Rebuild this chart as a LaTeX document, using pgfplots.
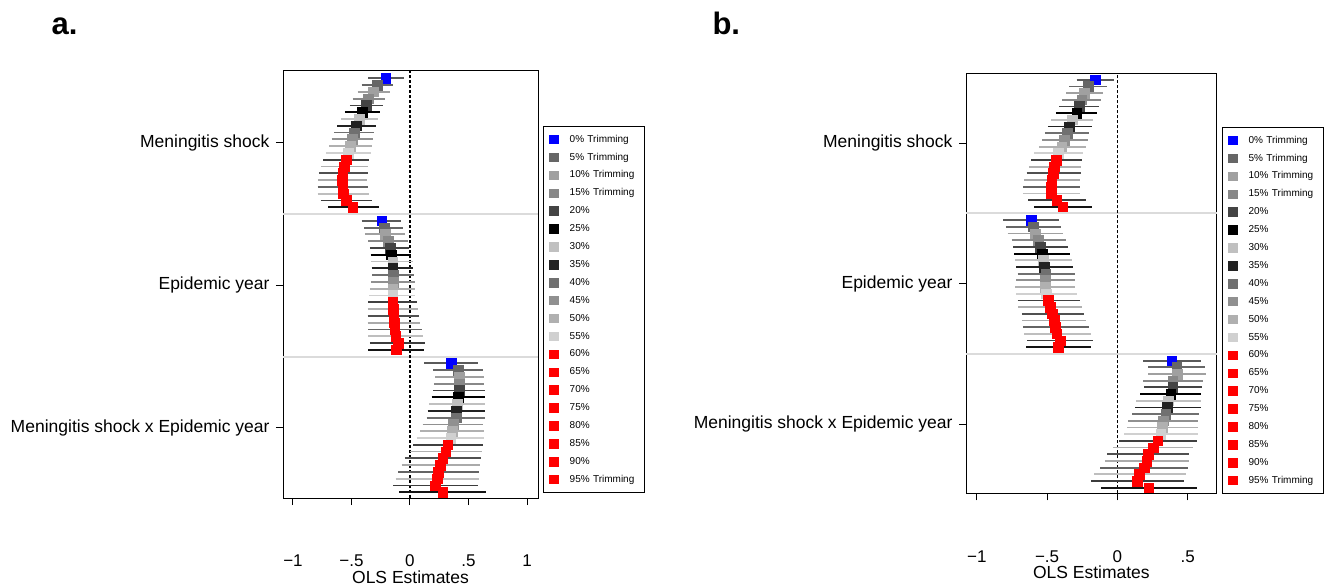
\documentclass[border=0pt]{standalone}
\usepackage{pgfplots}
\pgfplotsset{compat=1.18}
\usepackage{pgfplotstable}
\usepackage{fontspec}
\setmainfont{Liberation Sans}

\newcommand{\lblfont}{\fontsize{17.5}{21}\selectfont}
\newcommand{\tickfont}{\fontsize{17}{20}\selectfont}
\newcommand{\legfont}{\fontsize{10}{12}\selectfont}

% marker colours, one per trimming level
\definecolor{t0}{RGB}{0,0,255}
\definecolor{t1}{RGB}{102,102,102}
\definecolor{t2}{RGB}{160,160,160}
\definecolor{t3}{RGB}{136,136,136}
\definecolor{t4}{RGB}{68,68,68}
\definecolor{t5}{RGB}{0,0,0}
\definecolor{t6}{RGB}{192,192,192}
\definecolor{t7}{RGB}{34,34,34}
\definecolor{t8}{RGB}{112,112,112}
\definecolor{t9}{RGB}{144,144,144}
\definecolor{t10}{RGB}{176,176,176}
\definecolor{t11}{RGB}{208,208,208}
\definecolor{tr}{RGB}{255,0,0}

\pgfplotsset{
  colormap={trimmarks}{rgb255=(0,0,255) rgb255=(102,102,102) rgb255=(160,160,160)
    rgb255=(136,136,136) rgb255=(68,68,68) rgb255=(0,0,0) rgb255=(192,192,192)
    rgb255=(34,34,34) rgb255=(112,112,112) rgb255=(144,144,144) rgb255=(176,176,176)
    rgb255=(208,208,208) rgb255=(255,0,0) rgb255=(255,0,0) rgb255=(255,0,0)
    rgb255=(255,0,0) rgb255=(255,0,0) rgb255=(255,0,0) rgb255=(255,0,0) rgb255=(255,0,0)},
  colormap={trimlines}{rgb255=(90,90,90) rgb255=(102,102,102) rgb255=(160,160,160)
    rgb255=(136,136,136) rgb255=(68,68,68) rgb255=(0,0,0) rgb255=(192,192,192)
    rgb255=(34,34,34) rgb255=(112,112,112) rgb255=(144,144,144) rgb255=(176,176,176)
    rgb255=(208,208,208) rgb255=(64,64,64) rgb255=(176,176,176) rgb255=(80,80,80)
    rgb255=(170,170,170) rgb255=(100,100,100) rgb255=(190,190,190) rgb255=(60,60,60) rgb255=(20,20,20)},
  trimaxis/.style={
    scale only axis, anchor=north west,
    axis line style={line width=0.9pt, black},
    tick align=outside, xtick pos=bottom, ytick pos=left,
    major tick length=7pt, tick style={black, line width=1pt},
    ytick={-9.5,-30.5,-51.5},
    yticklabels={Meningitis shock, Epidemic year, Meningitis shock x Epidemic year},
    yticklabel style={font=\lblfont, xshift=-3pt},
    xticklabel style={font=\tickfont, inner sep=0pt},
    xlabel={OLS Estimates},
    xlabel style={font=\lblfont, inner sep=0pt, at={(axis description cs:0.5,0)}, anchor=north},
    extra y ticks={-20,-41}, extra y tick labels={},
    extra y tick style={grid=major, major grid style={line width=2pt, color=black!14}, major tick length=0pt},
    point meta min=0, point meta max=19,
    legend cell align=left,
    legend style={anchor=north west, draw=black, line width=0.8pt, font=\legfont,
      inner xsep=6pt, inner ysep=7.5pt, row sep=6.9pt,
      nodes={inner sep=1pt, text height=7.2pt, text depth=1.8pt, text width=68pt},
      /tikz/every odd column/.style={column sep=10pt}},
  },
}

% estimate with confidence bounds; y = -(21*group + level), k = trimming level
\pgfplotstableread{
y est lo hi k
0 -0.208 -0.356 -0.051 0
-1 -0.279 -0.413 -0.143 1
-2 -0.313 -0.447 -0.171 2
-3 -0.356 -0.490 -0.211 3
-4 -0.376 -0.513 -0.228 4
-5 -0.407 -0.556 -0.256 5
-6 -0.436 -0.590 -0.276 6
-7 -0.459 -0.621 -0.291 7
-8 -0.479 -0.647 -0.308 8
-9 -0.496 -0.670 -0.316 9
-10 -0.510 -0.690 -0.328 10
-11 -0.530 -0.718 -0.336 11
-12 -0.547 -0.741 -0.350 12
-13 -0.561 -0.758 -0.356 13
-14 -0.575 -0.778 -0.362 14
-15 -0.581 -0.786 -0.365 15
-16 -0.575 -0.789 -0.362 16
-17 -0.570 -0.789 -0.353 17
-18 -0.547 -0.763 -0.325 18
-19 -0.490 -0.698 -0.268 19
-21 -0.242 -0.413 -0.080 0
-22 -0.219 -0.390 -0.057 1
-23 -0.211 -0.385 -0.043 2
-24 -0.185 -0.356 -0.020 3
-25 -0.171 -0.342 -0.009 4
-26 -0.162 -0.336 0.006 5
-27 -0.148 -0.333 0.023 6
-28 -0.148 -0.328 0.028 7
-29 -0.142 -0.322 0.037 8
-30 -0.142 -0.333 0.043 9
-31 -0.148 -0.342 0.043 10
-32 -0.148 -0.348 0.043 11
-33 -0.148 -0.356 0.057 12
-34 -0.142 -0.362 0.071 13
-35 -0.139 -0.362 0.080 14
-36 -0.137 -0.362 0.085 15
-37 -0.131 -0.356 0.100 16
-38 -0.123 -0.356 0.108 17
-39 -0.103 -0.342 0.128 18
-40 -0.120 -0.356 0.120 19
-42 0.350 0.120 0.579 0
-43 0.413 0.199 0.621 1
-44 0.422 0.214 0.632 2
-45 0.422 0.205 0.635 3
-46 0.422 0.199 0.638 4
-47 0.413 0.185 0.638 5
-48 0.405 0.165 0.644 6
-49 0.396 0.151 0.641 7
-50 0.393 0.142 0.644 8
-51 0.370 0.108 0.627 9
-52 0.362 0.085 0.635 10
-53 0.348 0.057 0.635 11
-54 0.322 0.028 0.627 12
-55 0.305 0.000 0.618 13
-56 0.279 -0.043 0.607 14
-57 0.256 -0.071 0.598 15
-58 0.239 -0.100 0.590 16
-59 0.234 -0.123 0.590 17
-60 0.214 -0.142 0.579 18
-61 0.279 -0.091 0.647 19
}\dataA

\pgfplotstableread{
y est lo hi k
0 -0.157 -0.289 -0.021 0
-1 -0.206 -0.342 -0.075 1
-2 -0.235 -0.365 -0.100 2
-3 -0.253 -0.391 -0.116 3
-4 -0.273 -0.415 -0.130 4
-5 -0.289 -0.438 -0.147 5
-6 -0.320 -0.472 -0.171 6
-7 -0.342 -0.495 -0.182 7
-8 -0.358 -0.515 -0.199 8
-9 -0.377 -0.534 -0.211 9
-10 -0.396 -0.557 -0.225 10
-11 -0.420 -0.593 -0.246 11
-12 -0.436 -0.614 -0.253 12
-13 -0.448 -0.628 -0.258 13
-14 -0.458 -0.645 -0.261 14
-15 -0.467 -0.662 -0.265 15
-16 -0.472 -0.673 -0.265 16
-17 -0.472 -0.669 -0.265 17
-18 -0.431 -0.633 -0.225 18
-19 -0.389 -0.591 -0.182 19
-21 -0.614 -0.811 -0.415 0
-22 -0.598 -0.794 -0.401 1
-23 -0.586 -0.780 -0.389 2
-24 -0.562 -0.752 -0.365 3
-25 -0.548 -0.740 -0.353 4
-26 -0.536 -0.733 -0.337 5
-27 -0.527 -0.728 -0.325 6
-28 -0.520 -0.721 -0.317 7
-29 -0.510 -0.709 -0.301 8
-30 -0.515 -0.721 -0.301 9
-31 -0.515 -0.728 -0.301 10
-32 -0.508 -0.721 -0.289 11
-33 -0.491 -0.709 -0.265 12
-34 -0.479 -0.704 -0.253 13
-35 -0.462 -0.680 -0.235 14
-36 -0.450 -0.680 -0.225 15
-37 -0.443 -0.673 -0.201 16
-38 -0.431 -0.662 -0.187 17
-39 -0.408 -0.641 -0.171 18
-40 -0.420 -0.650 -0.187 19
-42 0.387 0.185 0.596 0
-43 0.423 0.221 0.624 1
-44 0.425 0.221 0.629 2
-45 0.394 0.185 0.608 3
-46 0.394 0.192 0.601 4
-47 0.380 0.162 0.596 5
-48 0.363 0.133 0.596 6
-49 0.356 0.126 0.596 7
-50 0.344 0.107 0.584 8
-51 0.327 0.078 0.572 9
-52 0.320 0.071 0.572 10
-53 0.309 0.050 0.572 11
-54 0.288 0.012 0.565 12
-55 0.254 -0.028 0.541 13
-56 0.221 -0.071 0.512 14
-57 0.209 -0.088 0.512 15
-58 0.190 -0.123 0.501 16
-59 0.157 -0.166 0.487 17
-60 0.142 -0.189 0.477 18
-61 0.223 -0.116 0.569 19
}\dataB

% square legend key
\newcommand{\sqkey}[1]{\addlegendimage{legend image code/.code={\fill[#1] (0pt,-4.25pt) rectangle (8.5pt,4.25pt);}}}
\newcommand{\trimlegend}{%
  \sqkey{t0}\addlegendentry{0\% Trimming}
  \sqkey{t1}\addlegendentry{5\% Trimming}
  \sqkey{t2}\addlegendentry{10\% Trimming}
  \sqkey{t3}\addlegendentry{15\% Trimming}
  \sqkey{t4}\addlegendentry{20\%}
  \sqkey{t5}\addlegendentry{25\%}
  \sqkey{t6}\addlegendentry{30\%}
  \sqkey{t7}\addlegendentry{35\%}
  \sqkey{t8}\addlegendentry{40\%}
  \sqkey{t9}\addlegendentry{45\%}
  \sqkey{t10}\addlegendentry{50\%}
  \sqkey{t11}\addlegendentry{55\%}
  \sqkey{tr}\addlegendentry{60\%}
  \sqkey{tr}\addlegendentry{65\%}
  \sqkey{tr}\addlegendentry{70\%}
  \sqkey{tr}\addlegendentry{75\%}
  \sqkey{tr}\addlegendentry{80\%}
  \sqkey{tr}\addlegendentry{85\%}
  \sqkey{tr}\addlegendentry{90\%}
  \sqkey{tr}\addlegendentry{95\% Trimming}
}

% confidence intervals, then point estimates
\newcommand{\trimplots}[1]{%
  \addplot[forget plot, colormap name=trimlines, point meta=\thisrow{k},
    quiver={u=\thisrow{hi}-\thisrow{lo}, v=0,
      every arrow/.append style={draw=mapped color, line width=1.8pt, -}}]
    table[x=lo, y=y] {#1};
  \addplot[forget plot, scatter, only marks, mark=square*, mark size=4.8pt,
    colormap name=trimmarks, point meta=\thisrow{k},
    scatter/use mapped color={draw=mapped color, fill=mapped color}]
    table[x=est, y=y] {#1};
}

\begin{document}
\begin{tikzpicture}
\path[use as bounding box] (0pt,0pt) rectangle (1333pt,-586pt);

\node[anchor=base west, font=\bfseries\fontsize{31}{36}\selectfont] at (48pt,-35pt) {a.};
\node[anchor=base west, font=\bfseries\fontsize{31}{36}\selectfont] at (709pt,-35pt) {b.};

\begin{axis}[trimaxis, at={(283pt,-70pt)}, width=255pt, height=428pt,
  xmin=-1.085, xmax=1.094, ymin=-61.84, ymax=1.22,
  xtick={-1,-0.5,0,0.5,1}, xticklabels={−1,−.5,0,.5,1},
  xticklabel style={yshift=-49.5pt}, xlabel style={yshift=-72.5pt},
  legend style={at={(1.0196,0.869)}}]
  \draw[line width=1.2pt, dash pattern=on 3pt off 2pt] (axis cs:0,-61.84) -- (axis cs:0,1.22);
  \trimplots{\dataA}
  \trimlegend
\end{axis}

\begin{axis}[trimaxis, at={(966pt,-73.3pt)}, width=250.7pt, height=420pt,
  xmin=-1.077, xmax=0.707, ymin=-61.84, ymax=0.96,
  xtick={-1,-0.5,0,0.5}, xticklabels={−1,−.5,0,.5},
  xticklabel style={yshift=-50pt}, xlabel style={yshift=-72.5pt},
  legend style={at={(1.0207,0.872)}}]
  \draw[line width=1.2pt, dash pattern=on 3pt off 2pt] (axis cs:0,-61.84) -- (axis cs:0,0.96);
  \trimplots{\dataB}
  \trimlegend
\end{axis}
\end{tikzpicture}
\end{document}
